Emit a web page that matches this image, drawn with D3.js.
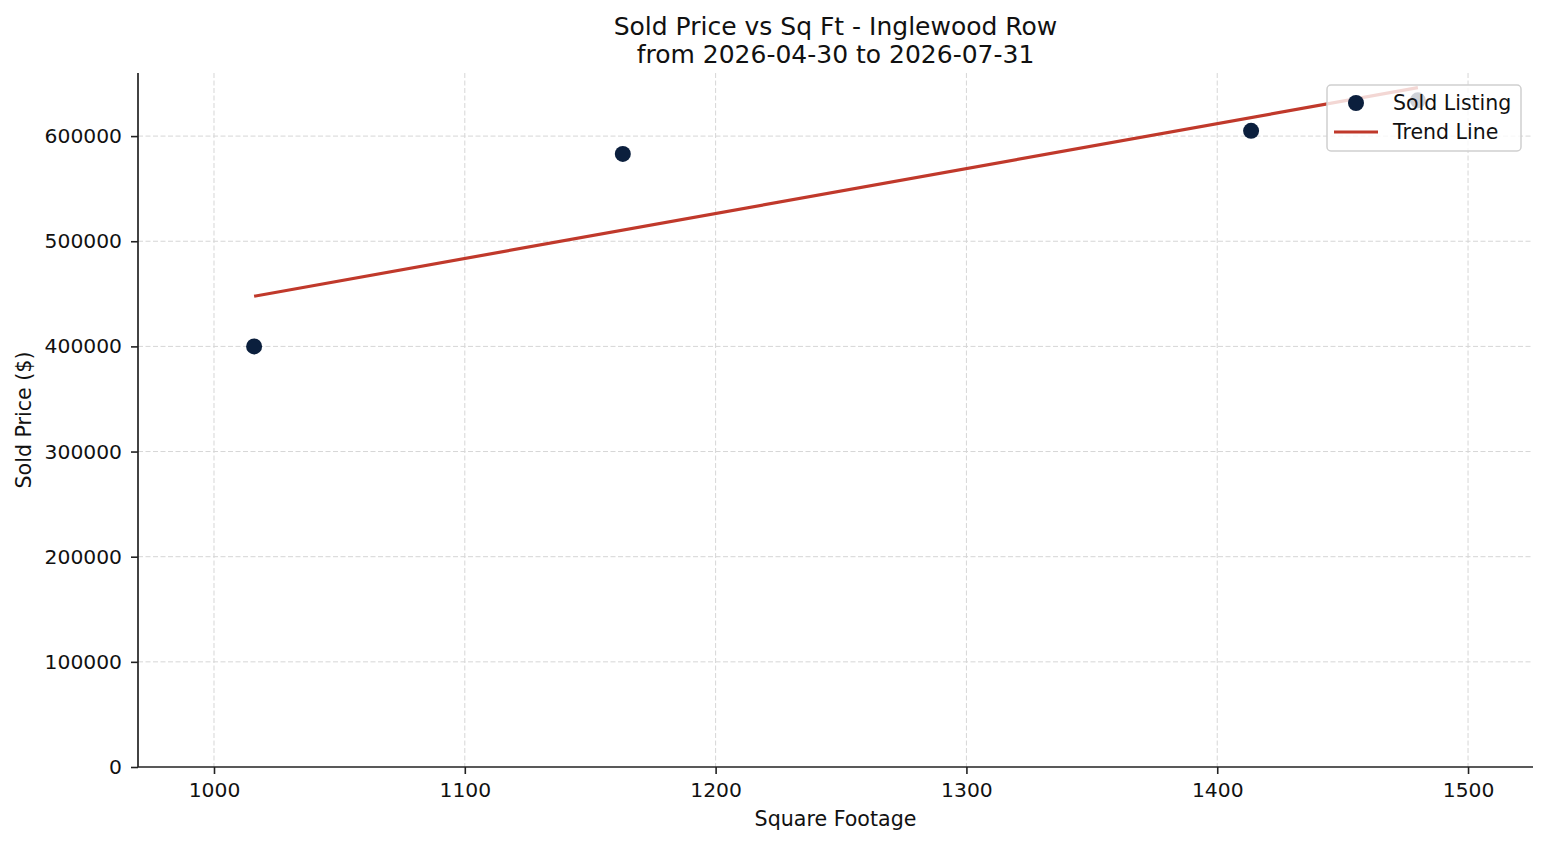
<!DOCTYPE html>
<meta charset="utf-8">
<style>
body{ margin:0; background:#fff; }
svg{ display:block; font-family:"DejaVu Sans", sans-serif; }
.grid line{ stroke:#d6d6d6; stroke-dasharray:5,2.5; stroke-width:1; }
</style>
<svg width="1547" height="845"></svg>
<script src="https://d3js.org/d3.v7.min.js"></script>
<script>

// sold listings
var sqft  = [1016, 1163, 1413.5, 1480];
var price = [400000, 583000, 605000, 634000];

var xTicks = [1000, 1100, 1200, 1300, 1400, 1500];
var yTicks = [0, 100000, 200000, 300000, 400000, 500000, 600000];

var titleLines = ["Sold Price vs Sq Ft - Inglewood Row", "from 2026-04-30 to 2026-07-31"];
var legendItems = ["Sold Listing", "Trend Line"];

var svg = d3.select("svg");

var margin = {top: 73, right: 14, bottom: 78, left: 138},
    width = 1547 - margin.left - margin.right,
    height = 845 - margin.top - margin.bottom;

var x = d3.scaleLinear().domain([969.7, 1525.9]).range([0, width]);
var y = d3.scaleLinear().domain([0, 660000]).range([height, 0]);

var g = svg.append("g").attr("transform", "translate(" + margin.left + "," + margin.top + ")");

// grid
g.append("g").attr("class", "grid")
  .selectAll("line").data(xTicks).enter().append("line")
    .attr("x1", d => x(d)).attr("x2", d => x(d))
    .attr("y1", 0).attr("y2", height);
g.append("g").attr("class", "grid")
  .selectAll("line").data(yTicks.slice(1)).enter().append("line")
    .attr("x1", 0).attr("x2", width)
    .attr("y1", d => y(d)).attr("y2", d => y(d));

// axes
var xAxis = g.append("g")
  .attr("transform", "translate(0," + height + ")")
  .call(d3.axisBottom(x).tickValues(xTicks).tickFormat(d3.format("d")).tickSizeOuter(0).tickSize(7).tickPadding(9));
var yAxis = g.append("g")
  .call(d3.axisLeft(y).tickValues(yTicks).tickFormat(d3.format("d")).tickSizeOuter(0).tickSize(7).tickPadding(9));

[xAxis, yAxis].forEach(function(a) {
  a.attr("font-family", null).attr("font-size", null);
  a.selectAll("text").style("font-size", "20.3px").attr("fill", "#111");
  a.selectAll("line").attr("stroke", "#222").attr("stroke-width", 1.6);
  a.select("path").attr("stroke", "#222").attr("stroke-width", 1.7);
});
// spines stretch the full axes area
xAxis.select("path").attr("d", "M0,0H" + width);
yAxis.select("path").attr("d", "M0,0V" + height);

// least squares trend line
var mx = d3.mean(sqft), my = d3.mean(price);
var sxy = d3.sum(sqft, (d, i) => (d - mx) * (price[i] - my));
var sxx = d3.sum(sqft, d => (d - mx) * (d - mx));
var slope = sxy / sxx, icpt = my - slope * mx;
var trend = d3.extent(sqft).map(d => [d, icpt + slope * d]);

g.append("path")
  .datum(trend)
  .attr("fill", "none")
  .attr("stroke", "#c0392b")
  .attr("stroke-width", 3.2)
  .attr("d", d3.line().x(d => x(d[0])).y(d => y(d[1])));

g.append("g").selectAll("circle")
  .data(sqft).enter().append("circle")
    .attr("cx", d => x(d))
    .attr("cy", (d, i) => y(price[i]))
    .attr("r", 8)
    .attr("fill", "#0b1f3d");

// legend
var lg = svg.append("g").attr("transform", "translate(1327,85)");
lg.append("rect")
  .attr("width", 194).attr("height", 66).attr("rx", 4)
  .attr("fill", "#fff").attr("fill-opacity", 0.8)
  .attr("stroke", "#cfcfcf").attr("stroke-width", 1.5);
lg.append("circle").attr("cx", 29).attr("cy", 18).attr("r", 8).attr("fill", "#0b1f3d");
lg.append("line").attr("x1", 7).attr("x2", 51).attr("y1", 47).attr("y2", 47)
  .attr("stroke", "#c0392b").attr("stroke-width", 3.2);
lg.selectAll("text").data(legendItems).enter().append("text")
  .attr("x", 66).attr("y", (d, i) => 18 + i * 29)
  .attr("dy", "0.35em")
  .style("font-size", "20.5px").attr("fill", "#111")
  .text(d => d);

// titles
svg.selectAll(".title").data(titleLines).enter().append("text")
  .attr("class", "title")
  .attr("x", margin.left + width / 2)
  .attr("y", (d, i) => 35 + i * 28)
  .attr("text-anchor", "middle")
  .style("font-size", "25px").attr("fill", "#111")
  .text(d => d);

svg.append("text")
  .attr("x", margin.left + width / 2).attr("y", 826)
  .attr("text-anchor", "middle")
  .style("font-size", "20.6px").attr("fill", "#111")
  .text("Square Footage");

svg.append("text")
  .attr("transform", "translate(31," + (margin.top + height / 2) + ") rotate(-90)")
  .attr("text-anchor", "middle")
  .style("font-size", "20.6px").attr("fill", "#111")
  .text("Sold Price ($)");

</script>
